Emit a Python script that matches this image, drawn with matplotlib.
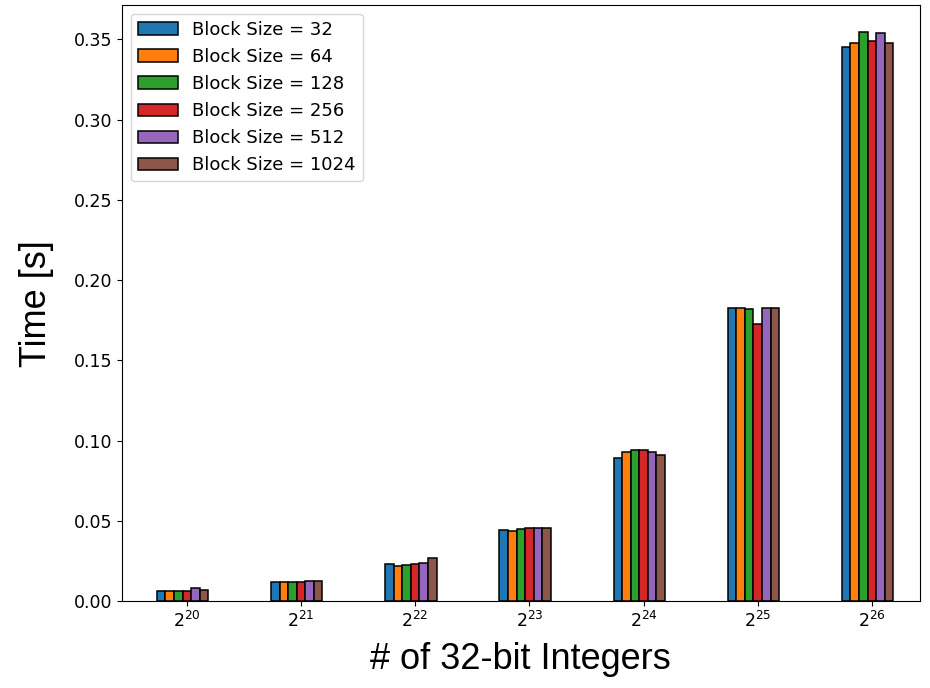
import numpy as np
import matplotlib
matplotlib.use("Agg")
import matplotlib.pyplot as plt

# problem sizes as powers of two
exponents = [20, 21, 22, 23, 24, 25, 26]
block_sizes = [32, 64, 128, 256, 512, 1024]

# time [s] per block size, one value per problem size
t_32 = [0.0065, 0.0120, 0.0231, 0.0443, 0.0894, 0.1826, 0.3450]
t_64 = [0.0065, 0.0120, 0.0223, 0.0439, 0.0932, 0.1826, 0.3480]
t_128 = [0.0065, 0.0120, 0.0229, 0.0449, 0.0940, 0.1820, 0.3545]
t_256 = [0.0065, 0.0120, 0.0230, 0.0457, 0.0940, 0.1729, 0.3490]
t_512 = [0.0081, 0.0127, 0.0237, 0.0457, 0.0932, 0.1826, 0.3537]
t_1024 = [0.0069, 0.0127, 0.0268, 0.0457, 0.0911, 0.1826, 0.3480]
times = [t_32, t_64, t_128, t_256, t_512, t_1024]

fig, ax = plt.subplots(figsize=(9.3, 6.88), dpi=100)
x = np.arange(len(exponents))
w = 0.075

for i, (bs, t) in enumerate(zip(block_sizes, times)):
    ax.bar(x + (i - 3) * w, t, width=w, edgecolor='black', linewidth=1.1,
           label=f"Block Size = {bs}")

ax.set_xticks(x)
ax.set_xticklabels([f"$2^{{{e}}}$" for e in exponents])
ax.tick_params(labelsize=12.5)
ax.set_xlim(-0.57, 6.42)
ax.set_ylim(0, 0.3715)
yt = [0.0, 0.05, 0.10, 0.15, 0.20, 0.25, 0.30, 0.35]
ax.set_yticks(yt)
ax.set_yticklabels([f"{v:.2f}" for v in yt])

ax.set_xlabel("# of 32-bit Integers", fontsize=26, family='Liberation Sans', labelpad=8)
ax.set_ylabel("Time [s]", fontsize=26, family='Liberation Sans', labelpad=14)
ax.legend(loc='upper left', fontsize=13, handlelength=2.2)

fig.subplots_adjust(left=0.131, right=0.989, top=0.993, bottom=0.126)
fig.savefig("out.png", dpi=100)
